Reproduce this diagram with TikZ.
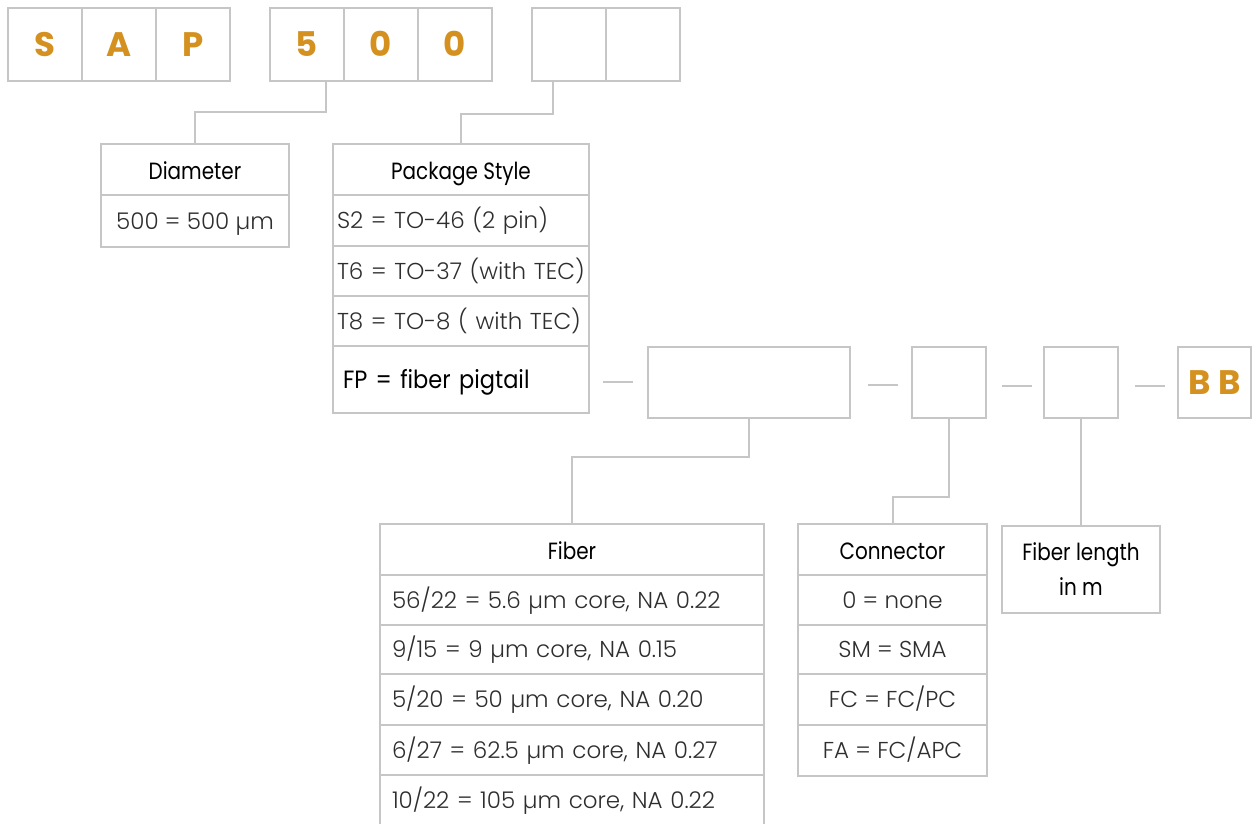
\documentclass[tikz,border=0pt]{standalone}
\usepackage{fontspec}
\setmainfont{Poppins}
\newfontfamily\lightf{Poppins Light}
\newfontfamily\regf{Poppins}[FakeStretch=0.85]
\newfontfamily\fpf{Poppins}[FakeStretch=0.9]
\newfontfamily\boldf{Poppins Bold}
\usetikzlibrary{calc}
\definecolor{linegray}{HTML}{C6C6C6}
\definecolor{sapor}{HTML}{D4911F}
\definecolor{bodytxt}{HTML}{2E2E2E}
\begin{document}
\begin{tikzpicture}[x=1pt,y=-1pt,
  box/.style={draw=linegray, line width=2pt, inner sep=0pt, rectangle},
  letter/.style={box, minimum width=74pt, minimum height=73pt, font=\boldf\fontsize{34}{34}\selectfont, text=sapor, text height=24pt, text depth=0pt},
  head/.style={box, font=\regf\fontsize{23.5}{26}\selectfont, text=black, text height=20pt, text depth=0pt},
  row/.style={box, font=\lightf\fontsize{23}{26}\selectfont, text=bodytxt, text height=16pt, text depth=0pt},
  lrow/.style={row, text width=#1, align=left},
  crow/.style={row, minimum width=#1},
  conn/.style={draw=linegray, line width=2pt},
]
\useasboundingbox (0,0) rectangle (1258,823);
% top code row
\node[letter] (s)   at (45,44)  {S};
\node[letter] (a)   at (119,44) {A};
\node[letter] (p)   at (193,44) {P};
\node[letter] (d5)  at (307,44) {5};
\node[letter] (d0a) at (381,44) {0};
\node[letter] (d0b) at (455,44) {0};
\node[letter] (e1)  at (569,44) {};
\node[letter] (e2)  at (643,44) {};
% diameter
\node[head, minimum width=188pt, minimum height=51pt] (diah) at (195,169.5) {Diameter};
\node[crow=188pt, minimum height=52pt] (diar) at (195,221) {500 = 500 \char"00B5m};
% package style
\node[head, minimum width=256pt, minimum height=51pt] (pkgh) at (461,169.5) {Package Style};
\node[lrow=248pt, inner xsep=4pt, minimum height=51pt] (pkg1) at (461,220.5) {S2 = TO-46 (2 pin)};
\node[lrow=248pt, inner xsep=4pt, minimum height=50pt] (pkg2) at (461,271) {T6 = TO-37 (with TEC)};
\node[lrow=248pt, inner xsep=4pt, minimum height=50pt] (pkg3) at (461,321) {T8 = TO-8 ( with TEC)};
\node[lrow=236pt, inner xsep=10pt, minimum height=67pt, font=\fpf\fontsize{25}{27}\selectfont, text=black, text height=17.5pt] (pkg4) at (461,379.5) {FP = fiber pigtail};
% middle row
\node[box, minimum width=202pt, minimum height=71pt] (b1) at (749,382.5) {};
\node[box, minimum width=74pt, minimum height=71pt] (b2) at (949,382.5) {};
\node[box, minimum width=74pt, minimum height=71pt] (b3) at (1081,382.5) {};
\node[letter, minimum width=73pt, minimum height=71pt] (bb) at (1214.5,382.5) {B\hspace{0.22em}B};
% dashes
\coordinate (k1a) at (603,382); \coordinate (k1b) at (633,382);
\coordinate (k2a) at (868,385); \coordinate (k2b) at (898,385);
\coordinate (k3a) at (1002,386); \coordinate (k3b) at (1032,386);
\coordinate (k4a) at (1135,386); \coordinate (k4b) at (1165,386);
\draw[conn] (k1a) -- (k1b);
\draw[conn] (k2a) -- (k2b);
\draw[conn] (k3a) -- (k3b);
\draw[conn] (k4a) -- (k4b);
% fiber
\node[head, minimum width=384pt, minimum height=51pt] (fibh) at (572,549.5) {Fiber};
\node[lrow=360pt, inner xsep=12pt, minimum height=50pt] (fib1) at (572,600) {56/22 = 5.6 \char"00B5m core, NA 0.22};
\node[lrow=360pt, inner xsep=12pt, minimum height=49pt] (fib2) at (572,649.5) {9/15 = 9 \char"00B5m core, NA 0.15};
\node[lrow=360pt, inner xsep=12pt, minimum height=51pt] (fib3) at (572,699.5) {5/20 = 50 \char"00B5m core, NA 0.20};
\node[lrow=360pt, inner xsep=12pt, minimum height=50pt] (fib4) at (572,750) {6/27 = 62.5 \char"00B5m core, NA 0.27};
\node[lrow=360pt, inner xsep=12pt, minimum height=51pt] (fib5) at (572,800.5) {10/22 = 105 \char"00B5m core, NA 0.22};
% connector
\node[head, minimum width=189pt, minimum height=51pt] (conh) at (892.5,549.5) {Connector};
\node[crow=189pt, minimum height=50pt] (con1) at (892.5,600) {0 = none};
\node[crow=189pt, minimum height=49pt] (con2) at (892.5,649.5) {SM = SMA};
\node[crow=189pt, minimum height=51pt] (con3) at (892.5,699.5) {FC = FC/PC};
\node[crow=189pt, minimum height=51pt] (con4) at (892.5,750.5) {FA = FC/APC};
% fiber length
\node[box, minimum width=158pt, minimum height=87pt, align=center, text=black, font=\regf\fontsize{23.5}{35}\selectfont] (flen) at (1081,569) {Fiber length\\in m};
% connectors
\coordinate (j1) at (326,112);
\coordinate (j2) at (553,114);
\coordinate (j3) at (572,457);
\coordinate (j4) at (892.5,497);
\draw[conn] (j1 |- d5.south) -- (j1) -| (diah.north);
\draw[conn] (j2 |- e1.south) -- (j2) -| (pkgh.north);
\draw[conn] (b1.south) |- (j3) -- (fibh.north);
\draw[conn] (b2.south) |- (j4) -- (conh.north);
\draw[conn] (b3.south) -- (flen.north);
\end{tikzpicture}
\end{document}
